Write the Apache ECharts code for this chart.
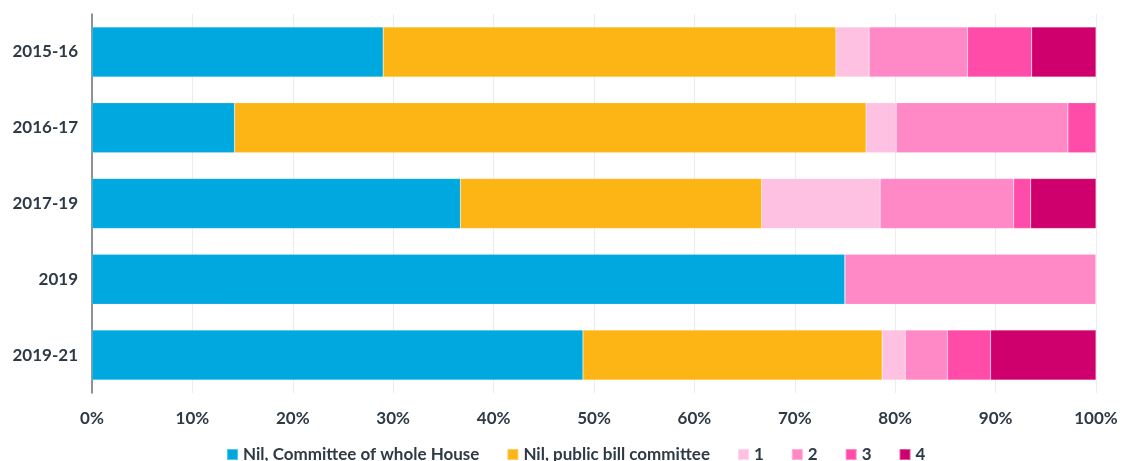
<!DOCTYPE html>
<html>
<head>
<meta charset="utf-8">
<script src="https://cdn.jsdelivr.net/npm/echarts@6/dist/echarts.min.js"></script>
<style>
  html, body { margin: 0; padding: 0; background: #fff; }
  #chart { width: 1124px; height: 461px; }
</style>
</head>
<body>
<div id="chart"></div>
<script>
// Sessions shown top to bottom
const sessions = ['2015-16', '2016-17', '2017-19', '2019', '2019-21'];

// Share of bills (%) by number of days in committee
const nilWholeHouse = [29.0, 14.2, 36.7, 75.0, 48.9];
const nilPublicBill = [45.1, 62.9, 30.0, 0, 29.8];
const oneDay        = [3.3, 3.0, 11.8, 0, 2.3];
const twoDays       = [9.8, 17.1, 13.3, 25.0, 4.2];
const threeDays     = [6.4, 2.8, 1.7, 0, 4.3];
const fourDays      = [6.4, 0, 6.5, 0, 10.5];

const xTicks = [0, 10, 20, 30, 40, 50, 60, 70, 80, 90, 100];

const seriesDefs = [
  { name: 'Nil, Committee of whole House', data: nilWholeHouse, color: '#00a8e0' },
  { name: 'Nil, public bill committee', data: nilPublicBill, color: '#fdb515' },
  { name: '1', data: oneDay, color: '#ffc1e1' },
  { name: '2', data: twoDays, color: '#ff88c7' },
  { name: '3', data: threeDays, color: '#ff4ca8' },
  { name: '4', data: fourDays, color: '#cf006d' }
];

const textColor = '#2e3a46';
const fontFamily = 'Lato, "Open Sans", sans-serif';

const chart = echarts.init(document.getElementById('chart'), null, { renderer: 'canvas' });

chart.setOption({
  animation: false,
  textStyle: { fontFamily: fontFamily },
  grid: { left: 92, right: 28, top: 14, bottom: 68, containLabel: false },
  legend: {
    top: 446,
    left: 226,
    padding: 0,
    itemWidth: 11,
    itemHeight: 11,
    itemGap: 27,
    icon: 'rect',
    textStyle: { color: textColor, fontSize: 17, fontWeight: 'bold', fontFamily: fontFamily },
    data: seriesDefs.map(s => s.name)
  },
  xAxis: {
    type: 'value',
    min: xTicks[0],
    max: xTicks[xTicks.length - 1],
    interval: 10,
    axisLine: { show: false },
    axisTick: { show: false },
    splitLine: { show: true, lineStyle: { color: '#ececec', width: 1 } },
    axisLabel: {
      color: textColor,
      fontSize: 17,
      fontWeight: 'bold',
      margin: 17,
      formatter: v => v + '%'
    }
  },
  yAxis: {
    type: 'category',
    inverse: true,
    data: sessions,
    axisLine: { show: true, lineStyle: { color: '#6b7077', width: 1.5 } },
    axisTick: { show: false },
    axisLabel: {
      color: textColor,
      fontSize: 17,
      fontWeight: 'bold',
      margin: 14
    }
  },
  series: seriesDefs.map(s => ({
    name: s.name,
    type: 'bar',
    stack: 'total',
    barWidth: 50,
    data: s.data,
    itemStyle: { color: s.color, borderColor: 'rgba(255,255,255,0.35)', borderWidth: 0.5 },
    emphasis: { disabled: true }
  }))
});
</script>
</body>
</html>
